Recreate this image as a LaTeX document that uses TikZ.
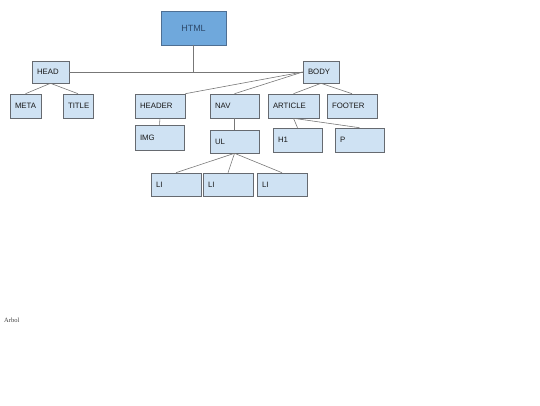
\documentclass[tikz,border=0pt]{standalone}
\usepackage{fontspec}
\setmainfont{Liberation Sans}
\newfontfamily\serifarbol{Liberation Serif}
\usepackage{xcolor}
\definecolor{boxfill}{HTML}{CFE2F3}
\definecolor{boxline}{HTML}{666A70}
\definecolor{rootfill}{HTML}{6FA8DC}
\definecolor{rootline}{HTML}{4E6F93}
\definecolor{roottext}{HTML}{2E4A6B}
\definecolor{wire}{HTML}{777777}

\begin{document}
\begin{tikzpicture}[x=1pt, y=-1pt,
    box/.style={draw=boxline, fill=boxfill, line width=0.6pt, minimum height=24pt, inner xsep=5pt, inner ysep=0pt, text width=39pt, align=left, font=\fontsize{7.8}{9}\selectfont, text=black!90},
    root/.style={draw=rootline, fill=rootfill, line width=0.6pt, minimum width=65pt, minimum height=34pt, font=\fontsize{9}{11}\selectfont, text=roottext},
    wire/.style={draw=wire, line width=0.6pt}
]
\useasboundingbox (0,0) rectangle (540,405);
\node[root] (html) at (193.5,28) {HTML};
\node[box, text width=27pt, minimum height=22pt] (head) at (50.5,72) {HEAD};
\node[box, text width=26pt, minimum height=22pt] (body) at (321,72) {BODY};
\node[box, text width=21pt] (meta) at (25.5,106) {META};
\node[box, text width=20pt] (title) at (78,106) {TITLE};
\node[box, text width=40pt] (header) at (160,106) {HEADER};
\node[box] (nav) at (234.5,106) {NAV};
\node[box, text width=41pt] (article) at (293.5,106) {ARTICLE};
\node[box, text width=40pt] (footer) at (352,106) {FOOTER};
\node[box, minimum height=25pt] (img) at (159.5,137.5) {IMG};
\node[box, minimum height=23pt] (ul) at (234.5,141.5) {UL};
\node[box] (h1) at (297.5,140) {H1};
\node[box] (p) at (359.5,140) {P};
\node[box, text width=40pt, minimum height=23pt] (li1) at (176,184.5) {LI};
\node[box, text width=40pt, minimum height=23pt] (li2) at (228,184.5) {LI};
\node[box, text width=40pt, minimum height=23pt] (li3) at (282,184.5) {LI};
\node[anchor=west, inner sep=0pt, font=\serifarbol\fontsize{6.5}{8}\selectfont, text=black!75] (arbol) at (4,320) {Arbol};
% tree connectors
\draw[wire] (head.east) -- (body.west);
\draw[wire] (html.south) -- (html.south |- head.east);
\draw[wire] (head.south) -- (meta.north);
\draw[wire] (head.south) -- (title.north);
\draw[wire] (body.west) -- (header.north east);
\draw[wire] (body.west) -- (nav.north);
\draw[wire] (body.south) -- (article.north);
\draw[wire] (body.south) -- (footer.north);
\draw[wire] (header.south) -- (img.north);
\draw[wire] (nav.south) -- (ul.north);
\draw[wire] (article.south) -- (h1.north);
\draw[wire] (article.south) -- (p.north);
\draw[wire] (ul.south) -- (li1.north);
\draw[wire] (ul.south) -- (li2.north);
\draw[wire] (ul.south) -- (li3.north);
\end{tikzpicture}
\end{document}
